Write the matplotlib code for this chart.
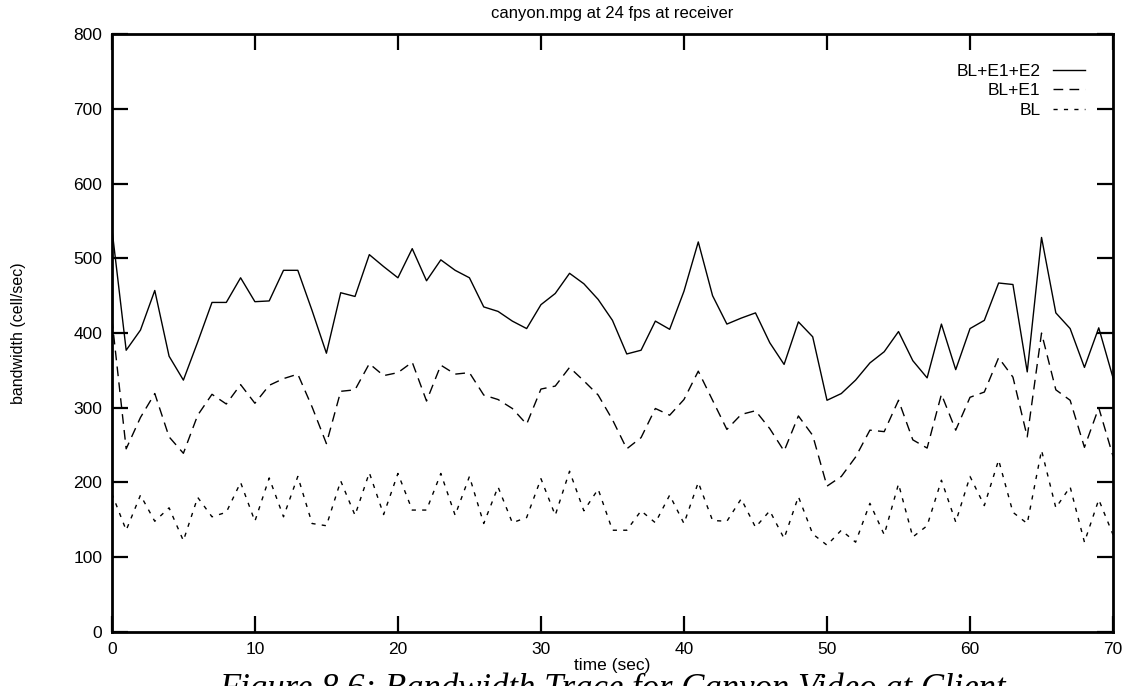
import matplotlib
matplotlib.use("Agg")
import matplotlib.pyplot as plt

# Bandwidth trace, one sample per second
time_sec = list(range(0, 71))

bl_e1_e2 = [540, 377, 404, 457, 369, 337, 388, 441, 441, 474,
            442, 443, 484, 484, 430, 373, 454, 449, 505, 489,
            474, 513, 470, 498, 484, 474, 435, 429, 416, 406,
            438, 453, 480, 466, 445, 417, 372, 377, 416, 405,
            456, 522, 450, 412, 420, 427, 387, 358, 415, 395,
            310, 319, 337, 360, 375, 402, 363, 340, 412, 351,
            406, 417, 467, 465, 348, 528, 427, 406, 354, 407,
            340]

bl_e1 = [419, 245, 287, 319, 261, 239, 290, 318, 305, 331,
         306, 330, 339, 345, 301, 252, 322, 324, 359, 343,
         347, 361, 309, 357, 345, 347, 317, 311, 299, 278,
         325, 329, 354, 336, 317, 284, 245, 260, 299, 290,
         311, 349, 310, 271, 291, 296, 272, 242, 289, 263,
         195, 208, 234, 270, 268, 310, 257, 246, 318, 270,
         314, 321, 367, 341, 261, 400, 324, 310, 247, 300,
         235]

bl = [185, 136, 183, 148, 166, 122, 180, 154, 160, 200,
      148, 206, 154, 208, 145, 142, 202, 156, 213, 157,
      212, 163, 163, 212, 156, 208, 145, 194, 146, 153,
      205, 156, 215, 162, 191, 136, 136, 162, 146, 183,
      145, 200, 149, 148, 178, 140, 162, 125, 181, 131,
      116, 136, 120, 172, 130, 198, 127, 142, 203, 147,
      208, 169, 230, 160, 145, 243, 166, 194, 120, 177,
      130]

series_labels = ["BL+E1+E2", "BL+E1", "BL"]
x_ticks = [0, 10, 20, 30, 40, 50, 60, 70]
y_ticks = [0, 100, 200, 300, 400, 500, 600, 700, 800]

plt.rcParams["lines.scale_dashes"] = False
sans = ["Liberation Sans", "DejaVu Sans"]

fig = plt.figure(figsize=(11.30, 6.86), dpi=100)
ax = fig.add_axes([0.099, 0.079, 0.886, 0.871])

ax.plot(time_sec, bl_e1_e2, color="black", lw=1.0, linestyle="-",
        label=series_labels[0])
ax.plot(time_sec, bl_e1, color="black", lw=1.0, linestyle=(0, (7, 4.5)),
        label=series_labels[1])
ax.plot(time_sec, bl, color="black", lw=1.0, linestyle=(0, (3, 4.5)),
        label=series_labels[2])

ax.set_xlim(0, 70)
ax.set_ylim(0, 800)
ax.set_xticks(x_ticks)
ax.set_yticks(y_ticks)
ax.tick_params(direction="in", length=11.5, width=1.6, top=True, right=True,
               labelsize=12.5, pad=7, color="black")
for lab in ax.get_xticklabels() + ax.get_yticklabels():
    lab.set_family(sans)
for sp in ax.spines.values():
    sp.set_linewidth(2.0)

ax.set_title("canyon.mpg at 24 fps at receiver", family=sans,
             fontsize=12, pad=12)
ax.set_xlabel("time (sec)", family=sans, fontsize=12.5, labelpad=1)
ax.set_ylabel("bandwidth (cell/sec)", family=sans, fontsize=11.5,
              labelpad=34)

leg = ax.legend(loc="upper right", bbox_to_anchor=(0.972, 0.951),
                frameon=False, markerfirst=False, borderaxespad=0,
                borderpad=0, handlelength=1.85, handletextpad=0.7,
                labelspacing=0.25, prop={"family": sans, "size": 12.5})

# Figure caption sitting at the lower page edge
fig.text(0.542, -0.018,
         "Figure 8.6: Bandwidth Trace for Canyon Video at Client",
         ha="center", va="baseline", family=["Liberation Serif", "DejaVu Serif"],
         style="italic", fontsize=25)

fig.savefig("out.png", dpi=100)
